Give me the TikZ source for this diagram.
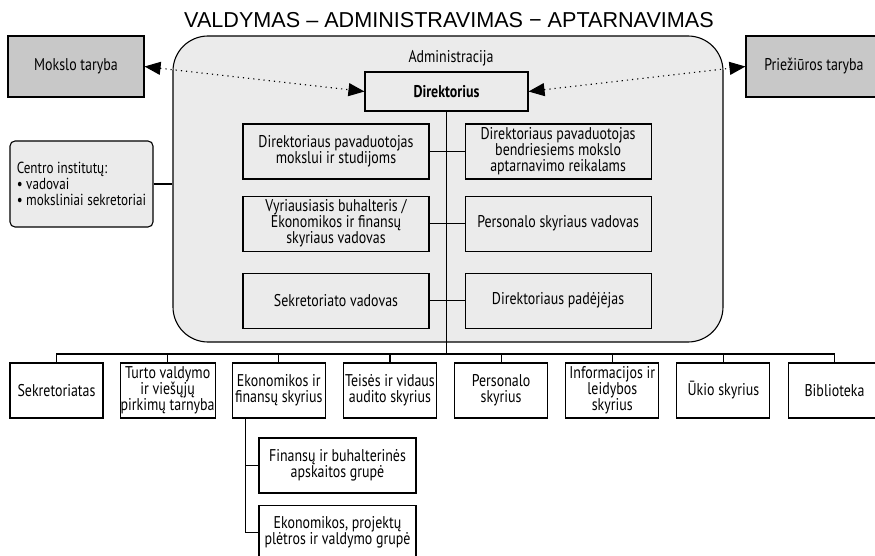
\documentclass[tikz,border=0pt]{standalone}
\usepackage{fontspec}
\setmainfont{PT Sans}[FakeStretch=0.82]
\newfontfamily\titlefont{Liberation Sans}
\usetikzlibrary{arrows.meta, positioning}
\definecolor{panelgray}{HTML}{EBEBEB}
\definecolor{boardgray}{HTML}{C8C8C8}

\begin{document}
\begin{tikzpicture}[
  x=1pt, y=-1pt,
  font        = \fontsize{17}{16}\selectfont,
  unit/.style  = {rectangle, draw, line width=1.1pt, fill=panelgray,
                  minimum width=186pt, minimum height=55pt, align=center,
                  inner sep=1pt},
  board/.style = {rectangle, draw, line width=1.1pt, fill=boardgray,
                  minimum width=136pt, minimum height=61pt},
  dept/.style  = {rectangle, draw, line width=1.1pt, fill=white,
                  minimum width=93pt, minimum height=55pt, align=center,
                  inner sep=0.5pt},
  group/.style = {dept, minimum width=157pt},
  wire/.style  = {line width=1.1pt},
  link/.style  = {line width=1.1pt, dash pattern=on 1.2pt off 4pt,
                  {Triangle[length=16pt,width=13pt]}-{Triangle[length=16pt,width=13pt]}},
]
\path[use as bounding box, clip] (0,0) rectangle (875,556);

% Title
\node[font=\titlefont\fontsize{21.6}{22}\selectfont] (title) at (449,20)
  {VALDYMAS – ADMINISTRAVIMAS − APTARNAVIMAS};

% Administration panel
\node[draw, line width=1.1pt, fill=panelgray, rounded corners=35pt,
      minimum width=550pt, minimum height=306pt] (admin) at (448,189) {};
\node (admintitle) at (451,58) {Administracija};
\node[unit, font=\fontsize{17}{16}\selectfont\bfseries,
      minimum width=163pt, minimum height=39pt] (dir) at (446.5,91.5) {Direktorius};

% Management boxes
\node[unit] (dep1) at (336,151.5) {Direktoriaus pavaduotojas\\mokslui ir studijoms};
\node[unit, below=16pt of dep1] (acc)  {Vyriausiasis buhalteris /\\Ekonomikos ir finansų\\skyriaus vadovas};
\node[unit, below=21pt of acc]  (secl) {Sekretoriato vadovas};
\node[unit, right=35pt of dep1] (dep2) {Direktoriaus pavaduotojas\\bendriesiems mokslo\\aptarnavimo reikalams};
\node[unit, right=35pt of acc]  (hr)   {Personalo skyriaus vadovas};
\node[unit, right=35pt of secl] (asst) {Direktoriaus padėjėjas};

% Trunk and stubs
\coordinate (busy) at (0,354);
\coordinate (bus) at (dir.south |- busy);
\draw[wire] (dir.south) -- (bus);
\draw[wire] (dep1) -- (dep2);
\draw[wire] (acc)  -- (hr);
\draw[wire] (secl) -- (asst);

% Boards
\node[board] (council) at (76,66.5)  {Mokslo taryba};
\node[board] (super)   at (814,66.5) {Priežiūros taryba};
\draw[link] (council.east) -- (dir.west);
\draw[link] (dir.east) -- (super.west);

% Institutes
\node[draw, line width=1.1pt, fill=panelgray, rounded corners=5pt,
      font=\fontsize{16}{16}\selectfont,
      minimum width=143pt, minimum height=86pt, align=left,
      inner xsep=4.5pt, inner ysep=2pt]
  (inst) at (81.5,184) {Centro institutų:\\• vadovai\\• moksliniai sekretoriai};
\draw[wire] (inst.east) -- (inst.east -| admin.west);

% Departments
\foreach \nm/\txt [count=\i from 0] in {
    sekr/Sekretoriatas,
    turto/{Turto valdymo\\ir viešųjų\\pirkimų tarnyba},
    ekon/{Ekonomikos ir\\finansų skyrius},
    teis/{Teisės ir vidaus\\audito skyrius},
    pers/{Personalo\\skyrius},
    info/{Informacijos ir\\leidybos\\skyrius},
    ukio/Ūkio skyrius,
    bibl/Biblioteka}
  \node[dept] (\nm) at ({56.5+111.15*\i},390.5) {\txt};
\foreach \nm in {sekr, turto, ekon, teis, pers, info, ukio, bibl}
  \draw[wire] (bus) -| (\nm.north);

% Economics groups
\coordinate (ekontap) at ([xshift=-33.5pt]ekon.south);
\node[group] (fin) at (337.5,465.5) {Finansų ir buhalterinės\\apskaitos grupė};
\node[group, below=11pt of fin] (proj) {Ekonomikos, projektų\\plėtros ir valdymo grupė};
\draw[wire] (ekontap) |- (fin.west);
\draw[wire] (ekontap) |- (proj.west);
\end{tikzpicture}
\end{document}
